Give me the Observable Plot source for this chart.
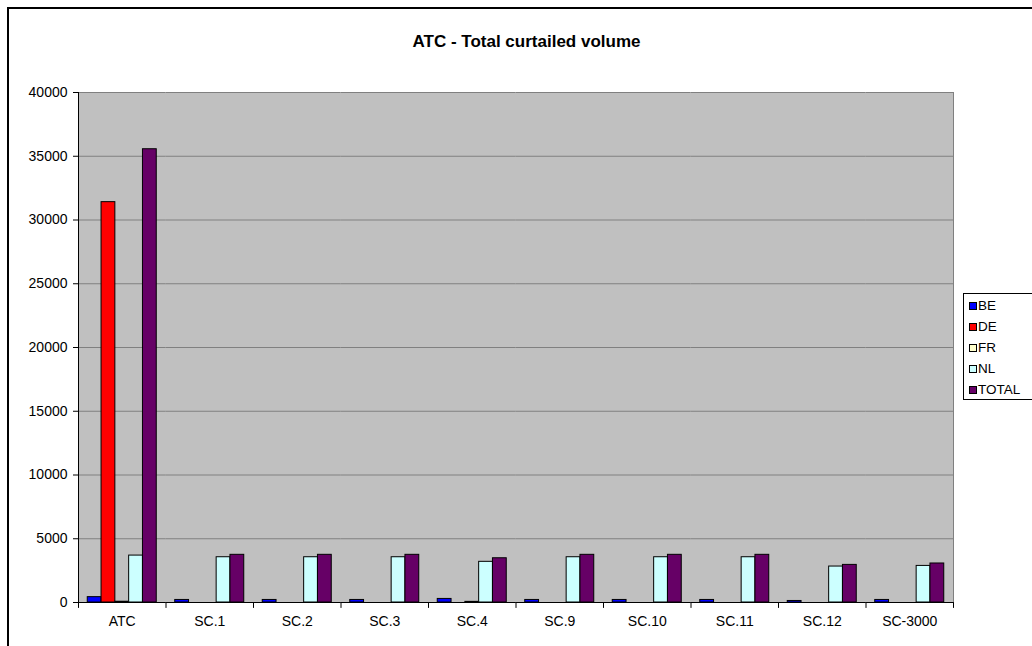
<!DOCTYPE html>
<html>
<head>
<meta charset="utf-8">
<script src="https://cdn.jsdelivr.net/npm/d3@7"></script>
<script src="https://cdn.jsdelivr.net/npm/@observablehq/plot@0.6"></script>
<style>
  html, body { margin: 0; padding: 0; background: #fff; }
  #wrap { position: relative; width: 1032px; height: 646px; overflow: hidden; font-family: "Liberation Sans", Arial, sans-serif; }
  #border { position: absolute; left: 7px; top: 7px; width: 1100px; height: 700px; border-top: 2px solid #000; border-left: 2px solid #000; }
  #chart { position: absolute; left: 0; top: 0; }
  #title { position: absolute; left: 226.5px; width: 600px; top: 32.6px; text-align: center; font-weight: bold; font-size: 17px; line-height: 1; color: #000; }
  #legend { position: absolute; left: 963px; top: 293px; width: 120px; height: 107px; border: 1px solid #000; background: #fff; box-sizing: border-box; }
  .lg-sw { position: absolute; width: 6px; height: 6px; border: 1px solid #000; }
  .lg-tx { position: absolute; font-size: 13.5px; line-height: 1; color: #000; }
</style>
</head>
<body>
<div id="wrap">
  <div id="chart"></div>
  <div id="border"></div>
  <div id="title">ATC - Total curtailed volume</div>
  <div id="legend"></div>
</div>
<script>
// ---- Data ----
const categories = ["ATC", "SC.1", "SC.2", "SC.3", "SC.4", "SC.9", "SC.10", "SC.11", "SC.12", "SC-3000"];
const series = ["BE", "DE", "FR", "NL", "TOTAL"];
const valuesBE    = [420, 200, 200, 200, 280, 200, 200, 200, 120, 200];
const valuesDE    = [31400, 0, 0, 0, 0, 0, 0, 0, 0, 0];
const valuesFR    = [60, 0, 0, 0, 50, 0, 0, 0, 0, 0];
const valuesNL    = [3680, 3550, 3550, 3550, 3190, 3550, 3550, 3550, 2820, 2870];
const valuesTOTAL = [35550, 3740, 3740, 3740, 3470, 3740, 3740, 3740, 2950, 3060];
const yTicks = [0, 5000, 10000, 15000, 20000, 25000, 30000, 35000, 40000];
const colors = ["#0000FF", "#FF0000", "#FFFFCC", "#CCFFFF", "#660066"];

const seriesValues = [valuesBE, valuesDE, valuesFR, valuesNL, valuesTOTAL];
const rows = [];
categories.forEach((c, i) => series.forEach((s, j) => rows.push({category: c, series: s, value: seriesValues[j][i]})));

const W = 1032, H = 646, mL = 78, mR = 79, mT = 92, mB = 44;
const tickShape = {draw(context, l) { context.moveTo(0, 0); context.lineTo(0, -l); }};

const chart = Plot.plot({
  width: W, height: H,
  marginLeft: mL, marginRight: mR, marginTop: mT, marginBottom: mB,
  style: {background: "transparent", fontFamily: "'Liberation Sans', Arial, sans-serif", fontSize: "14px", color: "#000"},
  fx: {domain: categories, padding: 0, round: false, label: null, axis: null},
  x: {domain: series, paddingInner: 0, paddingOuter: 0.67, round: false, axis: null},
  y: {domain: [0, 40000], axis: null},
  color: {domain: series, range: colors},
  marks: [
    Plot.frame({fill: "#C0C0C0", stroke: "none", facet: "super"}),
    Plot.gridY(yTicks, {stroke: "#808080", strokeOpacity: 1, strokeWidth: 1}),
    Plot.barY(rows.filter(d => d.value > 0), {fx: "category", x: "series", y: "value", fill: "series", stroke: "#000", strokeWidth: 1, inset: 0}),
    Plot.ruleY([0], {stroke: "#000", strokeWidth: 1}),
    Plot.frame({anchor: "right", stroke: "#808080", facet: "super"}),
    Plot.frame({anchor: "left", stroke: "#000", facet: "super"}),
    // category boundary ticks below the axis
    Plot.vector(categories, {fx: d => d, frameAnchor: "bottom-left", length: 5, rotate: 180, anchor: "start", shape: tickShape, stroke: "#000", strokeWidth: 1}),
    Plot.vector(categories.slice(-1), {fx: d => d, frameAnchor: "bottom-right", length: 5, rotate: 180, anchor: "start", shape: tickShape, stroke: "#000", strokeWidth: 1}),
    // category labels
    Plot.text(categories, {fx: d => d, text: d => d, frameAnchor: "bottom", dy: 23, fill: "#000", fontSize: 14}),
    Plot.axisY({ticks: yTicks, tickSize: 5, tickPadding: 6, label: null, tickFormat: d => String(d), stroke: "#000", fill: "#000"})
  ]
});
document.getElementById("chart").appendChild(chart);

// ---- Legend ----
const legend = document.getElementById("legend");
const rowCenters = [306, 327, 348, 369, 390];
series.forEach((s, i) => {
  const sw = document.createElement("div");
  sw.className = "lg-sw";
  sw.style.background = colors[i];
  sw.style.left = (969 - 964) + "px";
  sw.style.top = (rowCenters[i] - 4 - 294) + "px";
  legend.appendChild(sw);
  const tx = document.createElement("div");
  tx.className = "lg-tx";
  tx.textContent = s;
  tx.style.left = (978 - 964) + "px";
  tx.style.top = (rowCenters[i] - 7 - 294) + "px";
  legend.appendChild(tx);
});
</script>
</body>
</html>
